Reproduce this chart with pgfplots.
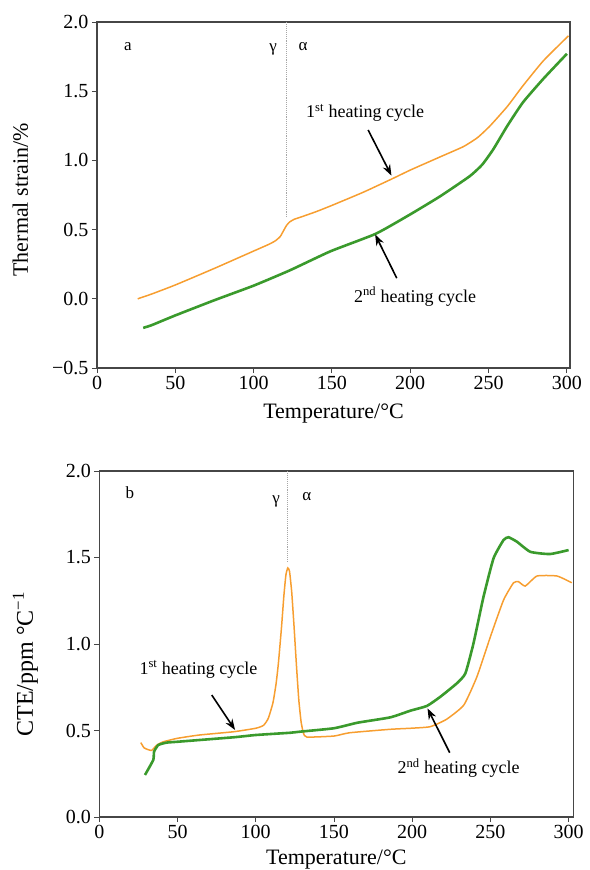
\documentclass[border=0pt]{standalone}
\usepackage{fontspec}
\setmainfont{Liberation Serif}
\usepackage{pgfplots}
\pgfplotsset{compat=1.18}
\usetikzlibrary{arrows.meta}

\definecolor{orangeC}{RGB}{247,158,48}
\definecolor{greenC}{RGB}{58,154,44}
\definecolor{frameC}{RGB}{70,70,70}

\tikzset{
  note/.style={font=\fontsize{18}{18}\selectfont},
  phase/.style={font=\fontsize{17}{17}\selectfont},
  pointer/.style={-{Stealth[length=11pt,width=8pt]}, line width=1.6pt, black},
  firstcyc/.style={color=orangeC, line width=1.5pt, smooth, tension=0.3},
  secondcyc/.style={color=greenC, line width=2.6pt, smooth, tension=0.3},
}

\pgfplotsset{
  dil/.style={
    scale only axis, width=473pt, height=346pt,
    xmin=0, xmax=302,
    axis line style={line width=1.1pt, color=frameC},
    tick align=outside, xtick pos=bottom, ytick pos=left,
    major tick length=5pt,
    tick style={line width=0.9pt, color=frameC},
    xtick={0,50,100,150,200,250,300},
    xticklabels={0,50,100,150,200,250,300},
    tick label style={font=\fontsize{20}{20}\selectfont},
    label style={font=\fontsize{22}{22}\selectfont},
    xlabel={Temperature/°C},
    xlabel style={at={(axis description cs:0.5,-0.147)}, anchor=base},
    clip=false,
  },
}

\begin{document}
\begin{tikzpicture}[x=1pt,y=1pt]
\useasboundingbox (0,0) rectangle (589,-870);

% (a) thermal strain
\begin{axis}[dil, at={(97pt,-368pt)}, anchor=south west,
  ymin=-0.5, ymax=2.0,
  ytick={-0.5,0,0.5,1,1.5,2},
  yticklabels={−0.5,0.0,0.5,1.0,1.5,2.0},
  ylabel={Thermal strain/\%},
  ylabel style={at={(axis description cs:-0.146,0.486)}, anchor=base, rotate=0}]
\addplot[gray!70, densely dotted, line width=0.9pt] coordinates {(121,0.59) (121,2.0)};
\addplot[firstcyc] coordinates {
(26,0.00) (35,0.035) (50,0.10) (75,0.22) (100,0.345) (110,0.395) (114,0.42)
(117,0.45) (119,0.49) (121,0.53) (123,0.555) (126,0.575) (130,0.59) (140,0.63)
(150,0.675) (170,0.77) (189,0.87) (200,0.93) (220,1.03) (234,1.10) (243,1.165)
(251,1.25) (262,1.39) (272,1.54) (285,1.72) (301,1.90)};
\addplot[secondcyc] coordinates {
(29.5,-0.21) (35,-0.19) (50,-0.12) (75,-0.01) (100,0.095) (123,0.205)
(149,0.343) (178,0.47) (200,0.61) (219,0.74) (238,0.886) (246,0.97) (253,1.08)
(262,1.25) (272,1.42) (285,1.59) (300,1.77)};
\node[phase] at (axis cs:19.8,1.824) {a};
\node[phase] at (axis cs:112.4,1.80) {γ};
\node[phase] at (axis cs:131.6,1.824) {α};
\node[note] at (axis cs:171.2,1.344) {1\textsuperscript{st} heating cycle};
\draw[pointer] (axis cs:173.1,1.22) -- (axis cs:188,0.89);
\node[note] at (axis cs:203.1,0.017) {2\textsuperscript{nd} heating cycle};
\draw[pointer] (axis cs:191.4,0.149) -- (axis cs:177.6,0.465);
\end{axis}

% (b) CTE
\begin{axis}[dil, at={(99.3pt,-817pt)}, anchor=south west,
  width=474pt, xmax=303,
  ymin=0, ymax=2.0,
  ytick={0,0.5,1,1.5,2},
  yticklabels={0.0,0.5,1.0,1.5,2.0},
  ylabel={CTE/ppm °C\textsuperscript{−1}},
  xlabel style={at={(axis description cs:0.5,-0.136)}, anchor=base},
  ylabel style={at={(axis description cs:-0.14,0.442)}, anchor=base, rotate=0,
                font=\fontsize{24}{24}\selectfont}]
\addplot[gray!70, densely dotted, line width=0.9pt] coordinates {(120.3,1.476) (120.3,2.0)};
\addplot[firstcyc] coordinates {
(26.5,0.43) (28.6,0.40) (31,0.39) (33.5,0.385) (36.7,0.415) (41,0.435) (50,0.455)
(64,0.474) (86,0.493) (100,0.513) (105,0.53) (108,0.57) (111,0.66) (113,0.77)
(114.5,0.89) (116.5,1.10) (118,1.28) (119.3,1.40) (120.5,1.44) (121.6,1.42)
(123,1.30) (124.5,1.10) (126,0.88) (127.5,0.68) (129,0.55) (130.5,0.485)
(132.7,0.462) (150,0.468) (160,0.487) (186,0.507) (199,0.513) (211.5,0.522)
(222,0.565) (233,0.647) (241.4,0.811) (250,1.042) (258.4,1.254) (264.8,1.354)
(268,1.36) (272.3,1.335) (279.8,1.393) (292.6,1.393) (302,1.354)};
\addplot[secondcyc] coordinates {
(29.2,0.243) (34.5,0.33) (35,0.378) (37.7,0.416) (43,0.43) (50,0.435) (86,0.461)
(100,0.474) (122,0.487) (128,0.493) (150,0.513) (165,0.545) (186,0.576)
(199,0.615) (209.4,0.642) (218,0.695) (228.6,0.773) (234,0.83) (239.2,1.004)
(245.6,1.273) (252,1.495) (258.4,1.601) (261.6,1.617) (267,1.591) (275.5,1.533)
(288,1.52) (300,1.543)};
\node[phase] at (axis cs:19.6,1.873) {b};
\node[phase] at (axis cs:113,1.825) {γ};
\node[phase] at (axis cs:132.7,1.85) {α};
\node[note] at (axis cs:63.4,0.854) {1\textsuperscript{st} heating cycle};
\draw[pointer] (axis cs:71.9,0.705) -- (axis cs:86.8,0.503);
\node[note] at (axis cs:229.7,0.281) {2\textsuperscript{nd} heating cycle};
\draw[pointer] (axis cs:224,0.372) -- (axis cs:209.8,0.628);
\end{axis}
\end{tikzpicture}
\end{document}
